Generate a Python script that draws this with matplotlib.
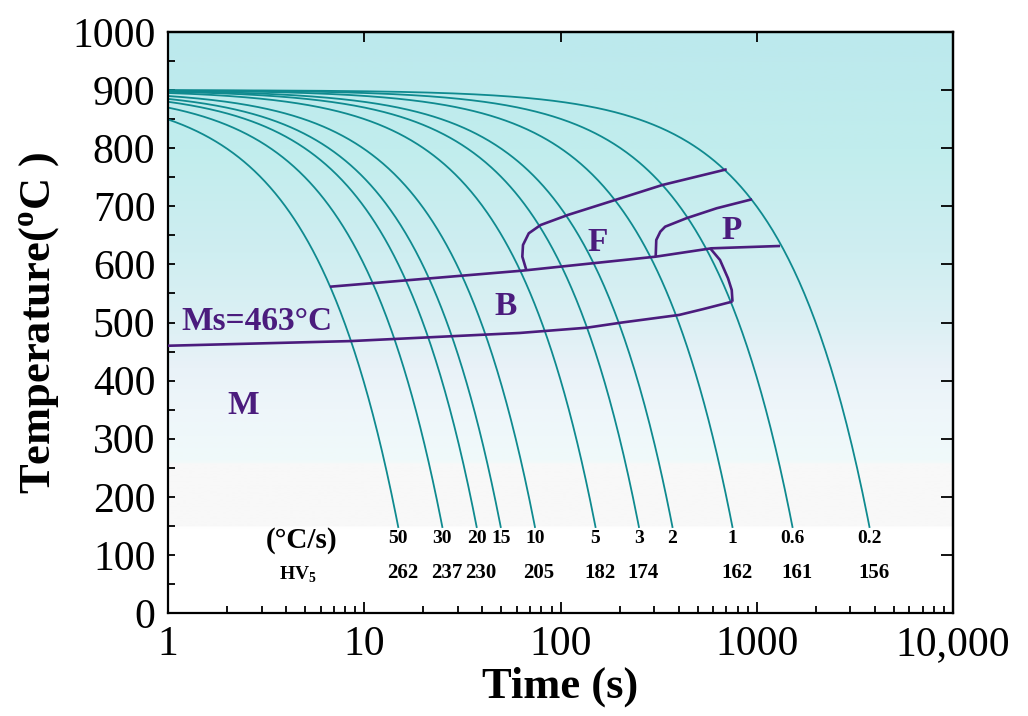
import numpy as np
import matplotlib
matplotlib.use('Agg')
import matplotlib.pyplot as plt
from matplotlib.colors import LinearSegmentedColormap
from matplotlib.ticker import FixedLocator, NullFormatter, NullLocator, LogLocator

plt.rcParams['font.family'] = ['Liberation Serif', 'DejaVu Serif']
plt.rcParams['mathtext.fontset'] = 'custom'
plt.rcParams['mathtext.rm'] = 'Liberation Serif'
plt.rcParams['mathtext.bf'] = 'Liberation Serif:bold'

# ---------------- data ----------------
rate_labels = ['50', '30', '20', '15', '10', '5', '3', '2', '1', '0.6', '0.2']
hardness = ['262', '237', '230', '', '205', '182', '174', '', '162', '161', '156']
# time (s) at which each cooling curve reaches its end temperature
t_end = [14.9, 25.0, 37.4, 49.6, 74.1, 150.8, 251, 372, 752, 1521, 3753]
T_start = 900
T_end = 148

# Ms / bainite-finish line
ms_t = [1, 8.5, 62, 136, 206, 402, 532, 752]
ms_T = [460, 468, 482, 491, 500, 513, 523, 536]
# bainite start (ferrite/pearlite finish) line
bs_t = [6.69, 63.7, 305.5, 587.7, 1314]
bs_T = [561.6, 589.2, 613.3, 627.7, 631.7]
# ferrite start
f_t = [67.0, 63.9, 64.4, 68.9, 79.2, 108.8, 189.6, 330.6, 703]
f_T = [590, 613.3, 633.4, 653.5, 667.8, 685.0, 710.8, 736.7, 763.7]
# pearlite start
p_t = [305.5, 307.6, 322.5, 341.3, 436.7, 624.3, 946]
p_T = [613.3, 642.0, 656.3, 664.9, 679.3, 696.6, 712.1]
# bainite nose (right boundary)
bn_t = [578, 649.6, 713.8, 745.6, 752.3]
bn_T = [628, 607.6, 576.1, 555.9, 535.8]

# ---------------- styling ----------------
TEAL = '#0f8a8f'
PURPLE = '#4b1c7d'

fig = plt.figure(figsize=(10.28, 7.16), dpi=100)
ax = fig.add_axes([168 / 1028, 1 - 613 / 716, 785 / 1028, 581 / 716])
ax.set_xscale('log')
ax.set_xlim(1, 10000)
ax.set_ylim(0, 1000)

# background gradient
stops = [(0.0, '#ffffff'), (0.145, '#ffffff'), (0.148, '#f8f8f8'),
         (0.255, '#f8f8f8'), (0.26, '#f0fafa'), (0.35, '#eef6fa'),
         (0.42, '#e9f2f8'), (0.50, '#dcf0f4'), (0.62, '#cfeef1'),
         (0.80, '#c1eded'), (1.0, '#bce9ed')]
cmap = LinearSegmentedColormap.from_list('bg', stops)
grad = np.linspace(0, 1, 1000).reshape(-1, 1)
ax.imshow(grad, cmap=cmap, aspect='auto', origin='lower', extent=[0, 1, 0, 1],
          transform=ax.transAxes, zorder=0, interpolation='bilinear')

# cooling curves (constant-rate cooling, straight in linear time)
for te in t_end:
    t = np.geomspace(1, te, 400)
    T = T_start - (T_start - T_end) * t / te
    ax.plot(t, T, color=TEAL, lw=1.3, zorder=2)

# transformation lines
for xs, ys in [(ms_t, ms_T), (bs_t, bs_T), (f_t, f_T), (p_t, p_T), (bn_t, bn_T)]:
    ax.plot(xs, ys, color=PURPLE, lw=1.9, zorder=3, solid_capstyle='butt',
            solid_joinstyle='round')

# region labels
lab_kw = dict(color=PURPLE, fontsize=24, fontweight='bold', zorder=4)
ax.text(1.17, 501, 'Ms=463°C', ha='left', va='center', **lab_kw)
ax.text(2.41, 358, 'M', ha='center', va='center', **lab_kw)
ax.text(52.2, 527, 'B', ha='center', va='center', **lab_kw)
ax.text(155, 637, 'F', ha='center', va='center', **lab_kw)
ax.text(746, 659, 'P', ha='center', va='center', **lab_kw)

# cooling rate and hardness labels
ax.text(4.82, 124, '(°C/s)', ha='center', va='center', fontsize=21, fontweight='bold', zorder=4)
ax.text(4.6, 65, r'HV$_{\mathbf{5}}$', ha='center', va='center', fontsize=14, fontweight='bold', zorder=4)
for te, rl, hv in zip(t_end, rate_labels, hardness):
    ax.text(te, 129, rl, ha='center', va='center', fontsize=14, fontweight='bold', zorder=4)
    if hv:
        ax.annotate(hv, (te, 68), xytext=(3, 0), textcoords='offset points',
                    ha='center', va='center', fontsize=15, fontweight='bold', zorder=4)

# ticks
ax.xaxis.set_major_locator(FixedLocator([1, 10, 100, 1000, 10000]))
ax.set_xticklabels(['1', '10', '100', '1000', '10,000'])
ax.xaxis.set_minor_locator(LogLocator(base=10, subs=np.arange(2, 10)))
ax.xaxis.set_minor_formatter(NullFormatter())
ax.yaxis.set_major_locator(FixedLocator(np.arange(0, 1001, 100)))
ax.yaxis.set_minor_locator(FixedLocator(np.arange(50, 1000, 100)))
ax.tick_params(axis='both', which='both', direction='in', top=False, right=False)
ax.tick_params(axis='x', which='major', length=8, width=1.3, labelsize=30, pad=9)
ax.tick_params(axis='x', which='minor', length=5, width=1.3)
ax.tick_params(axis='y', which='both', length=5, width=1.3, labelsize=30, pad=9)

secx = ax.secondary_xaxis('top')
secx.xaxis.set_major_locator(FixedLocator([10, 100, 1000]))
secx.xaxis.set_minor_locator(NullLocator())
secx.xaxis.set_major_formatter(NullFormatter())
secx.tick_params(direction='in', length=7, width=1.3)

secy = ax.secondary_yaxis('right')
secy.yaxis.set_major_locator(FixedLocator(np.arange(100, 1000, 100)))
secy.yaxis.set_minor_locator(NullLocator())
secy.yaxis.set_major_formatter(NullFormatter())
secy.tick_params(direction='in', length=8.5, width=1.3)

for sp in list(ax.spines.values()) + [secx.spines['top'], secy.spines['right']]:
    sp.set_linewidth(1.6)

ax.set_xlabel('Time (s)', fontsize=32, fontweight='bold')
ax.set_ylabel(r'Temperature($^{\mathbf{o}}$C )', fontsize=32, fontweight='bold')
ax.xaxis.label.set_va('center')
ax.yaxis.label.set_va('center')
ax.xaxis.set_label_coords(0.5, -0.127)
ax.yaxis.set_label_coords(-0.163, 0.5)

fig.savefig('out.png', dpi=100)
